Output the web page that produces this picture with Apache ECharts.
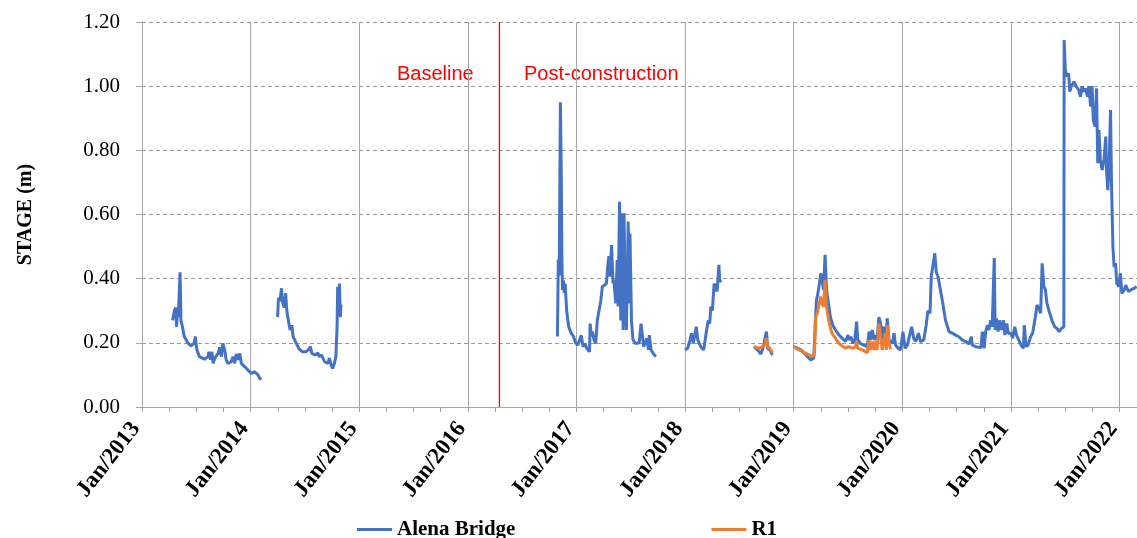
<!DOCTYPE html>
<html><head><meta charset="utf-8">
<script src="https://cdn.jsdelivr.net/npm/echarts/dist/echarts.min.js"></script>
<style>html,body{margin:0;padding:0;background:#fff}#c{width:1137px;height:538px}</style>
</head><body><div id="c"></div>
<script>
// ---- Data (date, stage in m) ----
const alena2013 = [
 ['2013-04-14',0.27],['2013-04-20',0.30],['2013-04-25',0.31],['2013-04-27',0.25],['2013-05-01',0.30],
 ['2013-05-03',0.28],['2013-05-09',0.42],['2013-05-12',0.27],['2013-05-17',0.25],['2013-05-23',0.22],
 ['2013-06-04',0.20],['2013-06-15',0.19],['2013-06-26',0.20],['2013-06-29',0.22],['2013-07-04',0.18],
 ['2013-07-13',0.157],['2013-07-30',0.149],['2013-08-11',0.157],['2013-08-14',0.172],['2013-08-19',0.147],
 ['2013-08-24',0.172],['2013-08-28',0.136],['2013-09-03',0.153],['2013-09-14',0.167],['2013-09-19',0.186],
 ['2013-09-25',0.157],['2013-09-30',0.198],['2013-10-06',0.178],['2013-10-11',0.147],['2013-10-17',0.136],
 ['2013-10-28',0.141],['2013-11-03',0.157],['2013-11-09',0.136],['2013-11-14',0.165],['2013-11-20',0.147],
 ['2013-11-26',0.167],['2013-12-01',0.136],['2013-12-12',0.126],['2013-12-23',0.115],['2014-01-04',0.105],
 ['2014-01-15',0.11],['2014-01-26',0.10],['2014-02-01',0.089],['2014-02-06',0.085]
];
const alena2014 = [
 ['2014-04-02',0.28],['2014-04-05',0.34],['2014-04-10',0.33],['2014-04-15',0.37],['2014-04-18',0.33],
 ['2014-04-24',0.31],['2014-04-29',0.355],['2014-05-03',0.30],['2014-05-08',0.27],['2014-05-14',0.24],
 ['2014-05-20',0.255],['2014-05-24',0.22],['2014-06-03',0.20],['2014-06-14',0.18],['2014-06-25',0.172],
 ['2014-07-06',0.172],['2014-07-17',0.18],['2014-07-21',0.188],['2014-07-26',0.167],['2014-08-07',0.162],
 ['2014-08-15',0.169],['2014-08-20',0.157],['2014-08-28',0.162],['2014-09-07',0.141],['2014-09-18',0.136],
 ['2014-09-23',0.152],['2014-09-29',0.131],['2014-10-04',0.12],['2014-10-10',0.136],['2014-10-15',0.157],
 ['2014-10-19',0.25],['2014-10-21',0.375],['2014-10-24',0.31],['2014-10-27',0.385],['2014-10-30',0.28],
 ['2014-11-01',0.32]
];
const alena2017 = [
 ['2016-10-29',0.22],['2016-11-01',0.46],['2016-11-04',0.41],['2016-11-08',0.95],['2016-11-11',0.72],
 ['2016-11-13',0.47],['2016-11-15',0.365],['2016-11-18',0.395],['2016-11-21',0.355],['2016-11-24',0.385],
 ['2016-11-29',0.30],['2016-12-06',0.25],['2016-12-14',0.23],['2016-12-22',0.22],['2016-12-29',0.20],
 ['2017-01-06',0.193],['2017-01-11',0.188],['2017-01-17',0.224],['2017-01-23',0.188],['2017-01-29',0.198],
 ['2017-02-05',0.183],['2017-02-14',0.172],['2017-02-16',0.26],['2017-02-20',0.22],['2017-02-24',0.235],
 ['2017-03-01',0.209],['2017-03-07',0.198],['2017-03-12',0.27],['2017-03-18',0.27],['2017-03-24',0.333],
 ['2017-03-29',0.375],['2017-04-04',0.375],['2017-04-12',0.385],['2017-04-16',0.437],['2017-04-20',0.47],
 ['2017-04-24',0.406],['2017-04-29',0.505],['2017-05-04',0.385],['2017-05-07',0.396],['2017-05-13',0.323],
 ['2017-05-18',0.458],['2017-05-21',0.313],['2017-05-26',0.64],['2017-05-30',0.27],['2017-06-02',0.604],
 ['2017-06-07',0.24],['2017-06-10',0.604],['2017-06-14',0.323],['2017-06-18',0.24],['2017-06-24',0.578],
 ['2017-06-27',0.323],['2017-06-30',0.54],['2017-07-05',0.27],['2017-07-10',0.209],['2017-07-19',0.198],
 ['2017-07-31',0.20],['2017-08-06',0.26],['2017-08-11',0.266],['2017-08-15',0.188],['2017-08-20',0.183],
 ['2017-08-26',0.214],['2017-08-31',0.178],['2017-09-03',0.224],['2017-09-09',0.178],['2017-09-16',0.167],
 ['2017-09-25',0.157]
];
const alena2018a = [
 ['2018-01-01',0.178],['2018-01-10',0.183],['2018-01-18',0.209],['2018-01-23',0.23],['2018-01-29',0.198],
 ['2018-02-08',0.25],['2018-02-13',0.209],['2018-02-23',0.188],['2018-03-05',0.178],['2018-03-13',0.23],
 ['2018-03-20',0.27],['2018-03-25',0.26],['2018-03-29',0.313],['2018-04-03',0.30],['2018-04-09',0.385],
 ['2018-04-14',0.39],['2018-04-19',0.36],['2018-04-25',0.443],['2018-04-28',0.39],['2018-05-02',0.396]
];
const alena2018b = [
 ['2018-08-21',0.188],['2018-09-02',0.178],['2018-09-13',0.165],['2018-09-20',0.183],['2018-09-26',0.188],
 ['2018-10-02',0.235],['2018-10-06',0.183],['2018-10-13',0.178],['2018-10-22',0.162]
];
const alena2019 = [
 ['2019-01-01',0.188],['2019-01-15',0.183],['2019-01-26',0.178],['2019-02-07',0.167],['2019-02-17',0.157],
 ['2019-02-28',0.147],['2019-03-10',0.152],['2019-03-15',0.26],['2019-03-19',0.333],['2019-03-24',0.354],
 ['2019-03-29',0.385],['2019-04-03',0.417],['2019-04-07',0.417],['2019-04-12',0.365],['2019-04-17',0.474],
 ['2019-04-22',0.365],['2019-04-27',0.333],['2019-05-05',0.28],['2019-05-13',0.255],['2019-05-22',0.24],
 ['2019-06-03',0.224],['2019-06-14',0.214],['2019-06-25',0.204],['2019-07-03',0.224],['2019-07-08',0.209],
 ['2019-07-13',0.219],['2019-07-19',0.198],['2019-07-26',0.209],['2019-08-01',0.266],['2019-08-05',0.209],
 ['2019-08-14',0.198],['2019-08-25',0.193],['2019-09-06',0.188],['2019-09-12',0.235],['2019-09-17',0.209],
 ['2019-09-23',0.24],['2019-09-29',0.209],['2019-10-04',0.224],['2019-10-09',0.209],['2019-10-15',0.28],
 ['2019-10-21',0.26],['2019-10-26',0.209],['2019-11-01',0.25],['2019-11-07',0.209],['2019-11-12',0.276],
 ['2019-11-18',0.209],['2019-11-29',0.198],['2019-12-05',0.23],['2019-12-10',0.193],['2019-12-19',0.183],
 ['2019-12-27',0.178],
 ['2020-01-04',0.235],['2020-01-11',0.183],['2020-01-19',0.193],['2020-01-24',0.214],['2020-02-02',0.25],
 ['2020-02-09',0.214],['2020-02-16',0.204],['2020-02-25',0.23],['2020-03-03',0.204],['2020-03-14',0.209],
 ['2020-03-22',0.255],['2020-03-28',0.30],['2020-04-04',0.292],['2020-04-08',0.406],['2020-04-14',0.40],
 ['2020-04-20',0.479],['2020-04-25',0.42],['2020-05-01',0.406],['2020-05-09',0.365],['2020-05-17',0.323],
 ['2020-05-26',0.27],['2020-06-07',0.235],['2020-06-18',0.23],['2020-06-29',0.224],['2020-07-10',0.219],
 ['2020-07-21',0.209],['2020-08-02',0.204],['2020-08-13',0.196],['2020-08-21',0.219],['2020-08-24',0.193],
 ['2020-09-05',0.188],['2020-09-22',0.185],['2020-09-27',0.235],['2020-10-03',0.183],['2020-10-08',0.235],
 ['2020-10-14',0.255],['2020-10-19',0.24],['2020-10-25',0.27],['2020-10-30',0.25],['2020-11-06',0.464],
 ['2020-11-09',0.24],['2020-11-13',0.276],['2020-11-19',0.235],['2020-11-24',0.27],['2020-11-30',0.24],
 ['2020-12-07',0.27],['2020-12-12',0.224],['2020-12-18',0.26],['2020-12-23',0.23],
 ['2021-01-01',0.23],['2021-01-07',0.214],['2021-01-14',0.25],['2021-01-20',0.224],['2021-01-26',0.219],
 ['2021-02-04',0.193],['2021-02-12',0.183],['2021-02-15',0.255],['2021-02-21',0.188],['2021-02-28',0.193],
 ['2021-03-08',0.219],['2021-03-15',0.23],['2021-03-24',0.28],['2021-03-30',0.318],['2021-04-05',0.308],
 ['2021-04-11',0.292],['2021-04-16',0.448],['2021-04-22',0.375],['2021-04-27',0.365],['2021-05-02',0.323],
 ['2021-05-10',0.297],['2021-05-19',0.27],['2021-05-28',0.25],['2021-06-05',0.245],['2021-06-12',0.235],
 ['2021-06-20',0.245],['2021-06-28',0.25],['2021-06-29',1.144],['2021-07-03',1.05],['2021-07-09',1.03],
 ['2021-07-14',1.04],['2021-07-18',0.983],['2021-07-23',1.0],['2021-08-01',1.014],['2021-08-08',1.0],
 ['2021-08-17',0.988],['2021-08-23',0.967],['2021-08-28',1.0],['2021-09-04',0.983],['2021-09-10',0.993],
 ['2021-09-15',0.967],['2021-09-20',1.0],['2021-09-26',0.936],['2021-10-01',1.0],['2021-10-05',0.895],
 ['2021-10-11',0.874],['2021-10-16',0.993],['2021-10-20',0.76],['2021-10-24',0.863],['2021-10-29',0.77],
 ['2021-11-04',0.739],['2021-11-10',0.77],['2021-11-16',0.843],['2021-11-19',0.728],['2021-11-23',0.676],
 ['2021-11-27',0.749],['2021-12-02',0.926],['2021-12-05',0.708],['2021-12-10',0.50],['2021-12-14',0.437],
 ['2021-12-19',0.448],['2021-12-23',0.385],['2021-12-30',0.375],
 ['2022-01-04',0.417],['2022-01-09',0.354],['2022-01-17',0.365],['2022-01-22',0.38],['2022-01-31',0.36],
 ['2022-02-08',0.365],['2022-02-19',0.37],['2022-02-28',0.375]
];
const r1_2018 = [
 ['2018-08-21',0.188],['2018-09-07',0.183],['2018-09-18',0.188],['2018-09-26',0.193],['2018-10-02',0.214],
 ['2018-10-06',0.188],['2018-10-13',0.183],['2018-10-22',0.169]
];
const r1_2019 = [
 ['2019-01-01',0.188],['2019-01-20',0.178],['2019-02-12',0.167],['2019-03-04',0.157],['2019-03-12',0.162],
 ['2019-03-17',0.28],['2019-03-24',0.30],['2019-04-02',0.344],['2019-04-07',0.323],['2019-04-12',0.313],
 ['2019-04-17',0.396],['2019-04-22',0.313],['2019-04-29',0.27],['2019-05-10',0.23],['2019-05-22',0.214],
 ['2019-06-03',0.198],['2019-06-14',0.19],['2019-06-25',0.183],['2019-07-03',0.188],['2019-07-08',0.183],
 ['2019-07-19',0.183],['2019-07-28',0.188],['2019-08-01',0.204],['2019-08-05',0.183],['2019-08-20',0.178],
 ['2019-09-06',0.169],['2019-09-12',0.209],['2019-09-17',0.178],['2019-09-23',0.204],['2019-09-29',0.178],
 ['2019-10-04',0.204],['2019-10-09',0.178],['2019-10-15',0.26],['2019-10-21',0.219],['2019-10-26',0.178],
 ['2019-11-05',0.23],['2019-11-09',0.178],['2019-11-13',0.255],['2019-11-18',0.20],['2019-11-23',0.18]
];
const alenaSegments = [alena2013, alena2014, alena2017, alena2018a, alena2018b, alena2019];
const r1Segments = [r1_2018, r1_2019];
const xTickLabels = ['Jan/2013','Jan/2014','Jan/2015','Jan/2016','Jan/2017','Jan/2018','Jan/2019','Jan/2020','Jan/2021','Jan/2022'];
const xStart = '2013-01-01', xEnd = '2022-03-01';
const constructionDate = '2016-04-17';
const yRange = [0, 1.2];
const seriesNames = ['Alena Bridge', 'R1'];
const annotations = ['Baseline', 'Post-construction'];

// ---- helpers ----
const YEAR_MS = 365.25 * 864e5;
const toX = d => (Date.parse(d + 'T00:00:00Z') - Date.parse(xStart + 'T00:00:00Z')) / YEAR_MS;
function build(segs) {
  const out = [];
  segs.forEach((s, i) => {
    if (i > 0) out.push([(toX(segs[i-1][segs[i-1].length-1][0]) + toX(s[0][0])) / 2, null]);
    s.forEach(p => out.push([toX(p[0]), p[1]]));
  });
  return out;
}
const xMax = toX(xEnd);
const serif = '"Liberation Serif", "DejaVu Serif", serif';
const gray = '#a6a6a6';
const annFont = '20px "Liberation Sans", Arial, sans-serif';

const chart = echarts.init(document.getElementById('c'), null, {renderer: 'canvas'});
chart.setOption({
  animation: false,
  backgroundColor: '#fff',
  grid: {left: 142, right: 0, top: 22, bottom: 131, containLabel: false},
  legend: {
    data: seriesNames, left: 357, top: 519, padding: 0, itemGap: 196, itemWidth: 35, itemHeight: 3, icon: 'rect',
    textStyle: {fontFamily: serif, fontWeight: 'bold', fontSize: 21, color: '#000'}
  },
  xAxis: [{
    type: 'value', min: 0, max: xMax, interval: 1,
    axisLine: {lineStyle: {color: gray}},
    axisTick: {show: false},
    splitLine: {show: true, lineStyle: {color: gray, width: 1}},
    axisLabel: {
      rotate: 52, margin: 10, padding: [0, 10, 0, 0], showMaxLabel: false, color: '#000',
      fontFamily: serif, fontWeight: 'bold', fontSize: 23,
      formatter: v => Math.abs(v - Math.round(v)) < 0.01 ? (xTickLabels[Math.round(v)] || '') : ''
    }
  }, {
    type: 'value', min: 0, max: xMax, interval: 0.25, position: 'bottom',
    axisLine: {show: false}, splitLine: {show: false}, axisLabel: {show: false},
    axisTick: {show: true, length: 5, lineStyle: {color: gray}}
  }],
  yAxis: {
    type: 'value', min: yRange[0], max: yRange[1], interval: 0.2,
    name: 'STAGE (m)', nameLocation: 'middle', nameGap: 106,
    nameTextStyle: {fontFamily: serif, fontWeight: 'bold', fontSize: 20, color: '#000'},
    axisLine: {show: true, lineStyle: {color: gray}},
    axisTick: {show: true, length: 6, lineStyle: {color: gray}},
    splitLine: {show: true, lineStyle: {color: '#999', type: [4, 3], width: 1}},
    axisLabel: {fontFamily: serif, fontSize: 21, color: '#000', margin: 22, formatter: v => v.toFixed(2)}
  },
  series: [{
    name: seriesNames[0], type: 'line', xAxisIndex: 0, showSymbol: false, symbol: 'none',
    connectNulls: false, data: build(alenaSegments), z: 3,
    lineStyle: {color: '#4472C4', width: 3}, itemStyle: {color: '#4472C4'}
  }, {
    name: seriesNames[1], type: 'line', xAxisIndex: 0, showSymbol: false, symbol: 'none',
    connectNulls: false, data: build(r1Segments), z: 4,
    lineStyle: {color: '#ED7D31', width: 3}, itemStyle: {color: '#ED7D31'}
  }, {
    name: 'construction', type: 'line', xAxisIndex: 0, showSymbol: false, symbol: 'none', silent: true, z: 2,
    data: [[toX(constructionDate), yRange[0]], [toX(constructionDate), yRange[1]]],
    lineStyle: {color: '#ff0000', width: 1.3, opacity: 1}, itemStyle: {color: '#ff0000'}
  }],
  graphic: [
    {type: 'text', left: 397, top: 64, style: {text: annotations[0], fill: '#ff0000', font: annFont}},
    {type: 'text', left: 524, top: 64, style: {text: annotations[1], fill: '#ff0000', font: annFont}}
  ]
});
</script></body></html>
